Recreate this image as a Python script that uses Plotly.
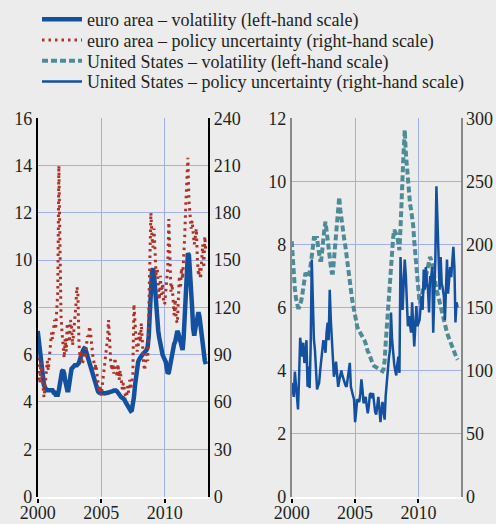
import pandas as pd
import plotly.graph_objects as go

# ---------------- data (monthly, starting Jan 2000) ----------------
euro_volatility = [
    7.0, 6.6, 6.1, 5.6, 5.2, 4.9, 4.7, 4.6, 4.5, 4.5, 4.5, 4.5,
    4.5, 4.5, 4.5, 4.4, 4.4, 4.3, 4.3, 4.3, 4.5, 4.8, 5.1, 5.3,
    5.35, 5.2, 4.9, 4.6, 4.5, 4.5, 4.7, 5.1, 5.4, 5.5, 5.5, 5.55,
    5.55, 5.55, 5.6, 5.65, 5.8, 6.0, 6.1, 6.2, 6.27, 6.25, 6.1, 5.95,
    5.85, 5.65, 5.5, 5.35, 5.2, 5.0, 4.8, 4.65, 4.5, 4.45, 4.4, 4.4,
    4.42, 4.4, 4.38, 4.36, 4.36, 4.36, 4.38, 4.4, 4.42, 4.42, 4.44, 4.46,
    4.48, 4.5, 4.48, 4.45, 4.38, 4.3, 4.25, 4.2, 4.18, 4.15, 4.1, 4.0,
    3.9, 3.8, 3.75, 3.68, 3.62, 3.65, 3.9, 4.2, 4.7, 5.2, 5.5, 5.7,
    5.8, 5.9, 5.95, 6.0, 6.05, 6.1, 6.15, 6.2, 6.35, 6.8, 7.8, 8.9,
    9.5, 9.65, 9.4, 8.8, 8.0, 7.4, 7.0, 6.7, 6.4, 6.2, 6.0, 5.9,
    5.8, 5.7, 5.45, 5.2, 5.25, 5.55, 5.85, 6.15, 6.35, 6.45, 6.55, 6.8,
    7.0, 6.9, 6.75, 6.5, 6.25, 6.2, 6.7, 7.6, 8.7, 9.8, 10.3, 10.2,
    9.6, 8.9, 8.0, 7.1, 6.8, 7.1, 7.45, 7.7, 7.8, 7.6, 7.2, 6.8,
    6.3, 5.95, 5.75, 5.6,
]

euro_policy_uncertainty = [
    88, 80, 72, 85, 78, 66, 63, 70, 82, 86, 80, 90,
    96, 104, 100, 108, 112, 106, 118, 130, 210, 150, 115, 104,
    95, 88, 100, 92, 110, 105, 98, 112, 108, 96, 104, 110,
    120, 133, 130, 98, 88, 92, 84, 86, 90, 88, 95, 102,
    100, 108, 104, 96, 90, 86, 80, 84, 76, 72, 66, 70,
    64, 70, 78, 84, 90, 95, 100, 112, 92, 86, 80, 84,
    78, 88, 82, 76, 84, 74, 80, 72, 68, 72, 66, 64,
    63, 70, 66, 74, 68, 72, 78, 122, 105, 100, 92, 96,
    104, 98, 110, 92, 86, 80, 84, 90, 86, 120, 150, 180,
    165, 158, 170, 150, 140, 145, 130, 125, 140, 128, 135, 125,
    122, 130, 140, 145, 176, 140, 130, 135, 120, 115, 125, 112,
    110, 128, 140, 132, 145, 138, 150, 165, 185, 198, 215, 188,
    178, 170, 175, 168, 160, 165, 170, 150, 140, 145, 138, 150,
    160, 145, 165, 155,
]

us_volatility = [
    8.1, 7.4, 7.0, 6.6, 6.3, 6.1, 6.0, 6.0, 6.1, 6.2, 6.4, 6.7,
    6.9, 7.1, 7.05, 7.0, 6.98, 7.1, 7.3, 7.6, 7.9, 8.2, 8.2, 8.2,
    8.2, 7.9, 7.6, 7.5, 7.5, 7.9, 8.2, 8.5, 8.72, 8.4, 8.1, 7.8,
    7.6, 7.3, 7.1, 7.1, 7.5, 7.9, 8.4, 8.8, 9.2, 9.5, 9.1, 8.8,
    8.55, 8.3, 8.1, 7.9, 7.6, 7.3, 7.0, 6.8, 6.55, 6.3, 6.1, 5.9,
    5.7, 5.5, 5.4, 5.3, 5.25, 5.2, 5.15, 5.1, 5.03, 4.95, 4.85, 4.7,
    4.6, 4.55, 4.45, 4.35, 4.25, 4.18, 4.14, 4.12, 4.1, 4.08, 4.05, 4.03,
    4.0, 4.0, 3.98, 4.05, 4.3, 4.87, 5.4, 5.9, 6.5, 7.0, 7.5, 7.82,
    8.2, 8.46, 8.4, 8.3, 8.25, 8.0, 7.82, 8.5, 9.1, 10.2, 11.0, 11.63,
    10.9, 10.4, 9.9, 9.5, 9.3, 9.1, 8.88, 8.6, 8.1, 7.7, 7.3, 6.9,
    6.4, 6.14, 6.2, 6.35, 6.5, 6.65, 6.8, 6.95, 7.1, 7.3, 7.5, 7.6,
    7.5, 7.35, 7.2, 7.0, 6.8, 6.6, 6.45, 6.3, 6.15, 6.0, 5.9, 5.8,
    5.6, 5.45, 5.3, 5.2, 5.1, 5.0, 4.9, 4.85, 4.75, 4.65, 4.55, 4.45,
    4.4, 4.34,
]

us_policy_uncertainty = [
    90, 85, 79, 99, 88, 75, 69, 95, 126, 118, 111, 122,
    106, 110, 124, 87, 103, 86, 120, 188, 143, 125, 116, 100,
    85, 88, 90, 100, 108, 116, 124, 120, 114, 130, 138, 124,
    164, 140, 127, 110, 95, 100, 107, 97, 87, 92, 96, 100,
    96, 93, 90, 88, 87, 95, 100, 106, 87, 82, 80, 77,
    59, 68, 77, 76, 75, 82, 93, 85, 74, 76, 79, 72,
    66, 72, 81, 82, 78, 82, 72, 67, 65, 72, 79, 70,
    59, 68, 75, 68, 61, 80, 90, 103, 110, 116, 146, 125,
    111, 105, 100, 96, 105, 111, 98, 190, 165, 148, 170, 188,
    175, 159, 135, 143, 138, 130, 154, 135, 119, 135, 151, 135,
    138, 140, 150, 159, 148, 180, 164, 182, 170, 164, 146, 174,
    174, 182, 130, 160, 188, 246, 220, 201, 164, 190, 169, 165,
    159, 140, 165, 188, 161, 170, 182, 174, 185, 198, 182, 138,
    154, 150,
]

year_tick_labels = ["2000", "2005", "2010"]
left_scale_ea = [0, 16, 2]
right_scale_ea = [0, 240, 30]
left_scale_us = [0, 12, 2]
right_scale_us = [0, 300, 50]

legend_names = [
    "euro area – volatility (left-hand scale)",
    "euro area – policy uncertainty (right-hand scale)",
    "United States – volatility (left-hand scale)",
    "United States – policy uncertainty (right-hand scale)",
]

euro_dates = pd.date_range("2000-01-01", periods=len(euro_volatility), freq="MS")
us_dates = pd.date_range("2000-01-01", periods=len(us_volatility), freq="MS")
tick_dates = [f"{y}-01-01" for y in year_tick_labels]

# ---------------- styling ----------------
BG = "#ececec"
GRID = "#a3b0e6"
BLUE = "#1450a0"
RED = "#ad3329"
TEAL = "#4f8b97"
FONT = "'Times New Roman', 'Liberation Serif', serif"
TXT = "#231f20"

W, H = 496, 524
def px_x(p):
    return p / W
def px_y(p):
    return 1 - p / H

legend_ids = ["legend", "legend2", "legend3", "legend4"]

fig = go.Figure()
fig.add_trace(go.Scatter(x=euro_dates, y=euro_volatility, name=legend_names[0],
                         mode="lines", line=dict(color=BLUE, width=4.5),
                         xaxis="x", yaxis="y", legend=legend_ids[0]))
fig.add_trace(go.Scatter(x=euro_dates, y=euro_policy_uncertainty, name=legend_names[1],
                         mode="lines", line=dict(color=RED, width=3, dash="2.5px,4px"),
                         xaxis="x", yaxis="y2", legend=legend_ids[1]))
fig.add_trace(go.Scatter(x=us_dates, y=us_volatility, name=legend_names[2],
                         mode="lines", line=dict(color=TEAL, width=4, dash="6px,3px"),
                         xaxis="x2", yaxis="y3", legend=legend_ids[2]))
fig.add_trace(go.Scatter(x=us_dates, y=us_policy_uncertainty, name=legend_names[3],
                         mode="lines", line=dict(color=BLUE, width=2.5),
                         xaxis="x2", yaxis="y4", legend=legend_ids[3]))

tickfont = dict(family=FONT, size=18, color=TXT)
ydom = [px_y(496.5), px_y(118.3)]

xcommon = dict(type="date", tickvals=tick_dates, ticktext=year_tick_labels,
               ticks="outside", ticklen=4, tickwidth=1.5, tickcolor="#000",
               ticklabelstandoff=-5,
               showgrid=True, gridcolor=GRID, gridwidth=1,
               showline=True, linecolor="white", linewidth=2,
               zeroline=False, tickfont=tickfont, automargin=False)

def ycommon(rng, grid, linecolor, side="left"):
    return dict(range=[rng[0], rng[1]], dtick=rng[2], tick0=0,
                showgrid=grid, gridcolor=GRID, gridwidth=1,
                showline=True, linecolor=linecolor, linewidth=1.5,
                zeroline=False, ticks="", tickfont=tickfont,
                automargin=False, side=side)

legend_rows_y = [19.5, 40.3, 61.0, 81.7]
legend_layout = {}
for lid, yc in zip(legend_ids, legend_rows_y):
    legend_layout[lid] = dict(x=px_x(37), y=px_y(yc), xanchor="left", yanchor="middle",
                              bgcolor="rgba(0,0,0,0)",
                              font=dict(family=FONT, size=18, color=TXT),
                              itemwidth=40)

fig.update_layout(
    width=W, height=H,
    margin=dict(l=0, r=0, t=0, b=0),
    paper_bgcolor=BG, plot_bgcolor=BG,
    font=dict(family=FONT, color=TXT),
    showlegend=True,
    xaxis=dict(domain=[px_x(37.7), px_x(208.3)], anchor="y",
               range=["2000-01-01", "2013-06-10"], **xcommon),
    xaxis2=dict(domain=[px_x(291.7), px_x(460.7)], anchor="y3",
                range=["2000-01-01", "2013-05-01"], **xcommon),
    yaxis=dict(domain=ydom, anchor="x", **ycommon(left_scale_ea, True, "#000")),
    yaxis2=dict(overlaying="y", anchor="x", **ycommon(right_scale_ea, False, "#000", "right")),
    yaxis3=dict(domain=ydom, anchor="x2", **ycommon(left_scale_us, True, "#888888")),
    yaxis4=dict(overlaying="y3", anchor="x2", **ycommon(right_scale_us, False, "#888888", "right")),
    **legend_layout,
)

fig.write_html("out.html", config={"displayModeBar": False},
               post_script="document.body.style.margin='0';")
